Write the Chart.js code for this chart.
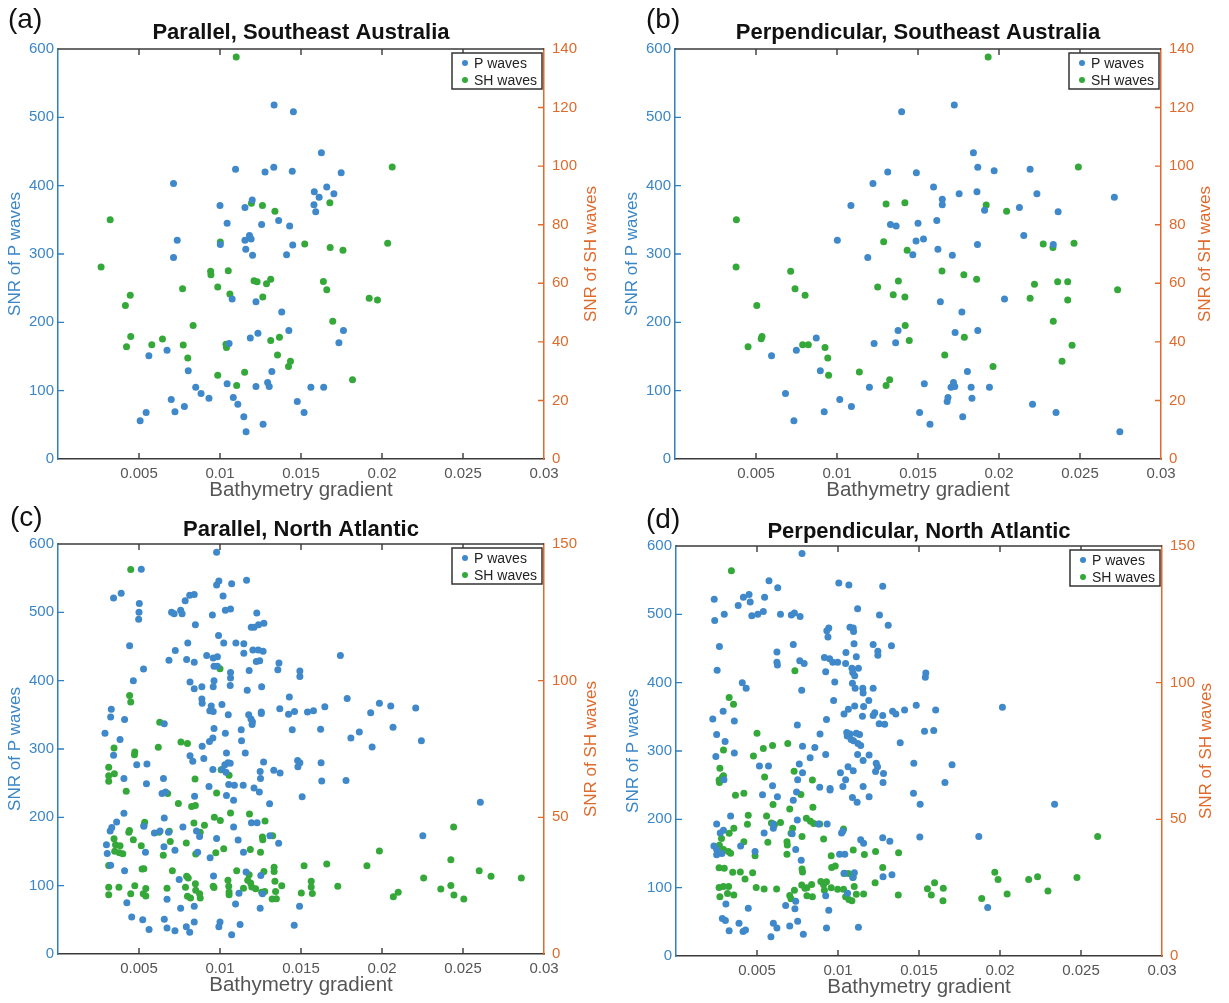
<!DOCTYPE html>
<html>
<head>
<meta charset="utf-8">
<title>SNR vs bathymetry gradient</title>
<script src="https://cdn.jsdelivr.net/npm/chart.js@4.4.1/dist/chart.umd.min.js"></script>
<style>
  body { margin: 0; background: #fff; }
  #fig { position: relative; width: 1229px; height: 1003px; overflow: hidden; }
  #fig canvas { position: absolute; }
</style>
</head>
<body>
<div id="fig">
  <canvas id="chartA" width="612" height="500" style="left:0;top:0"></canvas>
  <canvas id="chartB" width="612" height="500" style="left:617px;top:0"></canvas>
  <canvas id="chartC" width="612" height="500" style="left:0;top:495px"></canvas>
  <canvas id="chartD" width="612" height="500" style="left:618px;top:497px"></canvas>
</div>
<script>
// ---- (a) parallel, Southeast Australia ----
const aPx = [
  0.01334,0.01453,0.01626,0.01096,0.01278,0.01332,0.01446,0.01748,0.00713,0.01659,
  0.01582,0.01703,0.01612,0.01199,0.01000,0.01154,0.01580,0.01591,0.01362,0.01044,
  0.01257,0.01430,0.01182,0.01154,0.01192,0.00736,0.01002,0.01449,0.01159,0.01201,
  0.01411,0.00713,0.01075,0.01222,0.01381,0.01425,0.01762,0.01234,0.01187,0.01056,
  0.01734,0.00673,0.00561,0.00804,0.01320,0.01044,0.01294,0.01222,0.01304,0.00850,
  0.01561,0.01640,0.00883,0.00932,0.01082,0.00699,0.01110,0.01477,0.00780,0.00722,
  0.00544,0.01519,0.00507,0.01147,0.01266,0.01161];
const aPy = [
  518,508,448,424,420,427,421,419,403,398,
  391,388,383,379,371,368,372,362,349,345,
  343,341,327,320,322,320,314,313,307,298,
  299,295,234,230,215,188,188,184,177,169,
  170,159,151,129,128,110,112,106,106,105,
  105,105,96,89,90,87,80,84,77,69,
  68,68,56,62,51,40];
const aSHx = [
  0.01100,0.02063,0.00322,0.01262,0.01194,0.01339,0.01678,0.01002,0.01523,0.01680,
  0.01759,0.02035,0.00266,0.00942,0.00944,0.01051,0.01210,0.01229,0.01287,0.01313,
  0.01638,0.01659,0.00986,0.00769,0.01061,0.01264,0.00446,0.00416,0.01921,0.01972,
  0.00834,0.01696,0.00449,0.00423,0.00579,0.00645,0.00773,0.00801,0.01037,0.01040,
  0.01313,0.01367,0.01355,0.01435,0.01423,0.00986,0.01152,0.01103,0.01818];
const aSHy = [
  137.3,99.7,81.7,86.6,87.3,84.6,87.5,74.1,73.4,72.2,
  71.3,73.7,65.6,64.1,62.9,64.3,60.9,60.5,59.8,61.4,
  60.6,57.8,58.7,58.1,56.3,55.3,55.9,52.4,54.9,54.3,
  45.6,47.0,41.8,38.3,39.0,41.0,38.9,34.5,39.2,38.1,
  40.5,41.6,35.5,33.4,31.6,28.6,29.6,25.1,27.1];

// ---- (b) perpendicular, Southeast Australia ----
const bPx = [
  0.01724,0.01399,0.01842,0.01869,0.02192,0.01313,0.01490,0.01970,0.01222,0.01596,
  0.01864,0.01754,0.02234,0.02712,0.01650,0.01650,0.01086,0.02126,0.01911,0.02365,
  0.01616,0.01330,0.01365,0.01500,0.02153,0.01002,0.01488,0.01534,0.01867,0.02335,
  0.01623,0.01190,0.01468,0.01712,0.02034,0.01638,0.01771,0.01377,0.01869,0.01729,
  0.00872,0.01229,0.01362,0.00749,0.00596,0.00897,0.01805,0.01539,0.01719,0.01200,
  0.01704,0.01727,0.01828,0.01941,0.00682,0.01685,0.01833,0.01017,0.01680,0.01089,
  0.02207,0.00921,0.01510,0.02352,0.01776,0.00734,0.01574,0.02746];
const bPy = [
  518,508,448,427,424,420,419,422,403,398,
  391,388,388,383,380,372,371,368,364,362,
  349,343,341,345,327,320,319,322,314,314,
  307,295,299,298,234,230,215,188,188,185,
  177,169,170,159,151,129,128,110,112,105,
  105,106,105,105,96,90,89,87,84,77,
  80,69,68,68,62,56,51,40];
const bSHx = [
  0.01933,0.02490,0.00379,0.01303,0.01419,0.01921,0.02047,0.01288,0.01433,0.02273,
  0.02333,0.02463,0.00377,0.00714,0.01648,0.01783,0.01862,0.01379,0.02362,0.02424,
  0.02219,0.01251,0.00741,0.02732,0.00803,0.01347,0.01419,0.02192,0.02424,0.00505,
  0.01421,0.02335,0.00537,0.00532,0.00451,0.00788,0.00823,0.00926,0.01446,0.01786,
  0.02451,0.00943,0.01665,0.02389,0.01963,0.00948,0.01138,0.01325,0.01303];
const bSHy = [
  137.3,99.7,81.7,87.1,87.5,86.7,84.6,74.2,71.3,73.4,
  72.2,73.7,65.6,64.1,64.2,62.9,61.4,60.8,60.5,60.5,
  59.7,58.7,58.1,57.8,55.9,56.1,55.3,54.9,54.3,52.4,
  45.6,47.0,41.8,41.1,38.3,39.0,39.0,38.1,40.5,41.6,
  38.8,34.5,35.5,33.4,31.6,28.6,29.7,27.1,25.1];

// ---- (c) parallel, North Atlantic ----
const cPx = [
  0.00979,0.00514,0.00343,0.00390,0.00502,0.00500,0.00498,0.00442,0.00979,0.00993,
  0.01072,0.01164,0.01019,0.01065,0.01033,0.00785,0.00813,0.00841,0.00701,0.00757,
  0.00766,0.00717,0.00848,0.00953,0.01227,0.01193,0.01210,0.01238,0.01271,0.00991,
  0.00801,0.01023,0.01098,0.01147,0.01147,0.01203,0.01236,0.01266,0.00724,
  0.00685,0.00794,0.00841,0.00918,0.00958,0.00984,0.00963,0.00984,0.01224,0.01245,
  0.01180,0.01065,0.01065,0.01063,0.01364,0.01357,0.01493,0.01493,0.01743,0.00528,
  0.00465,0.00815,0.00841,0.00888,0.00963,0.00958,0.01168,0.01257,
  0.00888,0.00890,0.00946,0.00937,0.00958,0.01012,0.01051,0.01177,0.01191,0.01200,
  0.01198,0.01255,0.01255,0.01428,0.01369,0.01423,0.01460,0.01540,0.01577,0.01647,
  0.01785,0.01930,0.01984,0.02054,0.02208,0.01446,0.01621,0.01131,0.01033,0.01133,
  0.00963,0.00956,0.00935,0.00890,0.00815,0.00832,0.00900,0.01156,0.01808,0.01860,
  0.02068,0.02243,0.01939,0.00290,0.00325,0.00329,0.00411,0.00383,0.00343,0.00656,
  0.00486,0.00549,0.00407,0.00546,0.00651,0.00642,0.00664,0.00956,0.01014,0.01030,
  0.01049,0.01063,0.01037,0.01054,0.01089,0.01143,0.01084,0.01269,0.01248,0.01250,
  0.01332,0.01371,0.01479,0.01481,0.01493,0.01624,0.01628,0.01778,0.01507,0.01210,
  0.01243,0.01306,0.00932,0.00843,0.01040,0.02607,0.01040,
  0.00407,0.00362,0.00332,0.00322,0.00656,0.00530,0.00595,0.00630,0.00682,0.00299,
  0.00304,0.00325,0.00540,0.00654,0.00722,0.00771,0.00855,0.00874,0.00862,0.00939,
  0.00960,0.00979,0.01084,0.01112,0.01145,0.01194,0.01229,0.01308,0.01362,0.02252,
  0.01161,0.01252,0.00411,0.00748,
  0.00425,0.00455,0.00523,0.00562,0.00673,0.00656,0.00673,0.00722,0.00757,0.00792,
  0.00813,0.00841,0.00841,0.01000,0.00993,0.01072,0.01096,0.01117,0.01124,0.01248,
  0.01262,0.01491,0.01458];
const cPy = [
  588,563,521,528,513,500,490,451,540,546,
  542,547,524,505,503,517,525,526,500,503,
  498,498,482,496,499,478,478,482,484,466,
  455,455,455,454,440,445,445,443,444,
  430,431,427,437,433,435,421,421,428,429,
  415,412,404,393,426,416,414,406,437,417,
  400,398,388,391,400,391,386,391,
  373,367,363,356,355,365,350,350,344,340,
  336,352,354,376,359,351,355,354,356,362,
  374,353,367,363,360,328,329,328,323,312,
  330,316,311,304,290,282,286,294,316,325,
  332,312,303,323,347,358,343,314,291,337,
  277,278,257,249,257,235,237,270,270,277,
  280,279,266,248,247,247,225,281,267,257,
  269,265,283,274,280,280,253,254,230,243,
  237,220,245,231,232,222,294,
  206,193,185,180,199,187,177,180,178,160,
  147,130,149,157,152,186,180,172,149,141,
  114,169,186,167,149,192,192,173,162,173,
  120,115,122,109,
  75,54,50,36,80,51,38,34,67,40,
  32,70,47,47,40,28,73,89,43,67,
  88,70,42];
const cSHx = [
  0.00449,0.01000,0.00442,0.00449,0.00628,0.00759,0.00799,0.00346,0.00474,0.00472,
  0.00619,0.00313,0.00348,0.00313,0.00313,0.00421,0.00677,0.00743,0.00846,0.00979,
  0.01007,0.01056,0.00825,0.00848,0.01065,0.00965,0.01002,0.01182,0.01278,0.02442,
  0.00441,0.00437,0.00535,0.00530,0.00465,0.00514,0.00624,0.00687,0.00839,0.00904,
  0.00878,0.00792,0.00693,0.00650,0.00346,0.00355,0.00383,0.00350,0.00379,0.00400,
  0.00313,0.00376,0.00313,0.00313,0.00474,0.00449,0.00519,0.00530,0.00542,0.00526,
  0.00542,0.00673,0.00706,0.00794,0.00787,0.00804,0.00799,0.00818,0.00848,0.00850,
  0.00874,0.00878,0.00850,0.00974,0.01023,0.00958,0.00963,0.01049,0.01054,0.01056,
  0.01056,0.01103,0.01145,0.01171,0.01180,0.01189,0.01187,0.01196,0.01220,0.01257,
  0.01250,0.01271,0.01264,0.01262,0.01276,0.01322,0.01334,0.01334,0.01339,0.01343,
  0.01325,0.01381,0.01348,0.01519,0.01502,0.01563,0.01563,0.01570,0.01659,0.01727,
  0.01907,0.01984,0.02070,0.02100,0.02257,0.02363,0.02425,0.02425,0.02444,0.02505,
  0.02600,0.02673,0.02860];
const cSHy = [
  140.7,104.4,94.6,92.2,84.8,77.6,77.0,75.4,73.9,72.9,
  75.6,68.3,65.9,65.2,63.2,59.5,58.7,55.1,64.0,58.9,
  67.4,65.4,54.0,54.3,51.6,50.0,48.8,51.2,48.7,46.5,
  45.2,44.5,48.2,47.0,41.8,39.6,44.5,44.9,47.9,47.1,
  44.5,40.6,41.2,36.1,42.2,40.0,39.6,37.6,37.0,36.7,
  32.4,24.4,24.4,21.7,25.0,22.0,31.1,31.2,24.0,22.0,
  21.2,24.1,30.5,28.4,24.4,27.8,21.1,20.5,25.7,23.3,
  22.0,20.5,36.6,37.0,38.5,24.8,24.3,27.0,24.8,22.7,
  21.7,30.5,24.1,27.0,29.0,26.0,38.2,24.5,23.9,22.6,
  37.2,30.2,41.8,42.8,22.9,20.1,31.7,30.2,26.6,22.9,
  43.3,25.0,20.2,32.3,22.3,26.6,24.5,22.1,32.9,24.8,
  32.3,37.7,20.9,22.6,27.8,23.8,25.1,34.5,21.6,20.1,
  30.5,28.4,27.8];

// ---- (d) perpendicular, North Atlantic ----
const dPx = [
  0.00778,0.00574,0.00628,0.01005,0.01067,0.01276,0.00236,0.00416,0.00451,0.00458,
  0.00384,0.00547,0.00239,0.00298,0.00468,0.00505,0.00539,0.00645,0.00712,0.00731,
  0.00766,0.01121,0.01256,0.01310,0.00943,0.00931,0.00938,0.01074,0.01094,0.01096,
  0.00268,0.00724,0.01099,0.01217,0.01330,0.01246,0.01246,0.00623,0.00623,0.00626,
  0.00764,0.00791,0.01049,0.01113,0.00916,0.00948,0.00968,0.00998,0.01047,0.01086,
  0.01126,0.01091,0.01103,0.01542,0.01539,0.00254,0.00924,
  0.00409,0.00433,0.00776,0.00980,0.01089,0.01106,0.01153,0.01155,0.01217,0.00973,
  0.01190,0.01158,0.01103,0.01037,0.01064,0.01151,0.01227,0.01217,0.01276,0.01254,
  0.01288,0.01337,0.01357,0.01411,0.01483,0.01603,0.02015,0.00227,0.00291,0.00360,
  0.00251,0.00303,0.00246,0.00360,0.00929,0.00749,0.00889,0.01054,0.01074,0.01057,
  0.01113,0.01133,0.01081,0.01096,0.01123,0.01140,0.01384,0.01534,0.01591,0.00781,
  0.00857,0.00924,0.00828,0.01121,0.01192,0.01155,
  0.00515,0.00571,0.00761,0.00781,0.00751,0.01015,0.01062,0.01094,0.01236,0.01244,
  0.01232,0.01281,0.01278,0.01468,0.01704,0.01660,0.00296,0.00596,0.00534,0.00626,
  0.00887,0.00951,0.00951,0.01030,0.01047,0.01155,0.01089,0.01118,0.01192,0.00744,
  0.00724,0.01466,0.01507,0.02337,
  0.00337,0.00251,0.00273,0.00293,0.00601,0.00601,0.00544,0.00749,0.00717,0.00879,
  0.00933,0.01022,0.01030,0.00399,0.00488,0.00234,0.00251,0.00251,0.00283,0.00739,
  0.01140,0.01158,0.01276,0.01320,0.01869,0.01505,0.01010,0.01042,0.00773,0.01039,
  0.01101,0.01091,0.01333,0.01278,
  0.00924,0.00943,0.00308,0.00446,0.00286,0.00305,0.00328,0.00389,0.00414,0.00429,
  0.00586,0.00601,0.00623,0.00677,0.00702,0.00734,0.00739,0.00751,0.00786,0.00929,
  0.01126,0.01924,0.01059];
const dPy = [
  589,549,539,546,543,541,522,525,529,518,
  513,525,491,500,498,500,504,500,499,502,
  497,508,499,484,480,476,467,481,480,475,
  453,456,457,456,454,446,440,445,430,426,
  432,428,444,438,437,435,430,430,428,421,
  421,415,410,414,408,418,416,
  400,392,389,401,399,392,392,385,392,374,
  374,365,366,354,361,351,356,352,352,340,
  339,358,354,360,367,360,364,347,358,344,
  324,314,292,297,346,338,325,327,325,322,
  326,324,317,315,311,308,312,329,330,307,
  305,295,290,295,294,286,
  278,278,281,268,258,268,277,271,282,277,
  270,267,254,282,280,254,258,249,236,233,
  247,245,243,248,258,248,232,225,233,240,
  228,238,222,222,
  205,193,180,184,187,193,180,199,179,193,
  193,180,183,161,153,161,156,148,150,156,
  170,165,173,168,175,174,149,149,140,121,
  122,115,119,116,
  88,67,76,70,55,52,37,48,36,38,
  28,48,41,74,44,69,80,51,32,41,
  42,71,92];
const dSHx = [
  0.00342,0.00734,0.00328,0.00355,0.00500,0.00690,0.00596,0.00539,0.00293,0.00478,
  0.00271,0.00293,0.00266,0.00268,0.00286,0.00547,0.00729,0.00842,0.00367,0.00419,
  0.00599,0.00771,0.00702,0.00845,0.00446,0.00559,0.00645,0.00589,0.00608,0.00441,
  0.00357,0.00328,0.00281,0.00805,0.00830,0.00850,0.00887,0.01034,0.00911,0.00419,
  0.00567,0.00685,0.00687,0.00710,0.00720,0.00268,0.00293,0.00323,0.00337,0.00488,
  0.00685,0.00778,0.00958,0.00961,0.00983,0.01094,0.01163,0.01232,0.01374,0.01276,
  0.00266,0.00298,0.00350,0.00397,0.00426,0.00473,0.00778,0.00781,0.00808,0.00894,
  0.00911,0.00929,0.01037,0.01064,0.01094,0.01100,0.01034,0.00998,0.00958,0.01229,
  0.00266,0.00293,0.00325,0.00318,0.00271,0.00357,0.00495,0.00544,0.00621,0.00702,
  0.00710,0.00731,0.00776,0.00796,0.00808,0.00837,0.00842,0.00916,0.01047,0.01067,
  0.01086,0.01113,0.01158,0.01372,0.01596,0.01552,0.01576,0.01650,0.01648,0.01887,
  0.01968,0.01988,0.02044,0.02177,0.02232,0.02296,0.02475,0.02603];
const dSHy = [
  140.9,104.4,94.6,92.1,81.5,77.7,77.0,75.9,75.4,73.2,
  68.7,65.9,64.4,63.5,65.4,65.5,67.6,64.4,58.8,59.5,
  55.4,59.1,53.8,54.4,51.5,51.2,48.8,48.7,48.0,48.2,
  46.7,44.9,43.0,50.4,49.3,48.5,48.3,46.5,42.8,41.8,
  41.6,41.8,40.6,44.9,46.7,40.5,39.0,38.2,37.6,36.7,
  37.2,43.7,36.7,32.4,32.9,38.8,37.1,38.2,37.8,32.4,
  32.3,32.1,30.6,30.7,28.2,30.5,31.8,30.7,25.0,27.3,
  26.1,27.2,30.2,30.2,28.8,25.4,24.4,24.4,25.0,26.8,
  25.1,25.4,25.4,22.9,21.7,22.3,25.1,24.5,24.5,22.1,
  20.9,24.1,26.0,24.8,22.0,26.2,21.7,24.1,21.7,20.7,
  20.2,22.6,22.7,22.3,26.8,24.6,22.3,24.8,20.2,21.0,
  30.6,28.0,22.7,28.0,29.0,23.8,28.7,43.7];

// axis ranges / ticks
const xTicks = [0.005, 0.01, 0.015, 0.02, 0.025, 0.03];
const pRange = [0, 600];
const seriesNames = ['P waves', 'SH waves'];

const BLUE = '#2f7fc1';
const BLUE_TXT = '#3b86c6';
const ORANGE = '#df6a2c';
const GREEN = '#35a83a';
const DOT_BLUE = '#3f88ca';
const FRAME = '#3a3a3a';
const GRAY_TXT = '#555555';
const FONT = '"Liberation Sans", Arial, Helvetica, sans-serif';

Chart.defaults.font.family = FONT;

function pts(xs, ys) {
  return xs.map((x, i) => ({ x: x, y: ys[i] }));
}

// frame, inward ticks, titles and boxed legend
const decor = {
  id: 'decor',
  afterDraw(chart, args, o) {
    const ctx = chart.ctx;
    const a = chart.chartArea;
    const sx = chart.scales.x, sy = chart.scales.y, sy1 = chart.scales.y1;
    const tl = 6;
    ctx.save();

    ctx.lineWidth = 1.4;
    ctx.strokeStyle = FRAME;
    ctx.beginPath();
    ctx.moveTo(a.left, a.top);
    ctx.lineTo(a.right, a.top);
    ctx.stroke();

    ctx.beginPath();
    sx.ticks.forEach(t => {
      const px = sx.getPixelForValue(t.value);
      if (px < a.left + 2 || px > a.right - 2) return;
      ctx.moveTo(px, a.bottom); ctx.lineTo(px, a.bottom - tl);
      ctx.moveTo(px, a.top); ctx.lineTo(px, a.top + tl);
    });
    ctx.stroke();

    ctx.strokeStyle = BLUE;
    ctx.beginPath();
    sy.ticks.forEach(t => {
      const py = sy.getPixelForValue(t.value);
      if (py < a.top + 2 || py > a.bottom - 2) return;
      ctx.moveTo(a.left, py); ctx.lineTo(a.left + tl, py);
    });
    ctx.stroke();

    ctx.strokeStyle = ORANGE;
    ctx.beginPath();
    sy1.ticks.forEach(t => {
      const py = sy1.getPixelForValue(t.value);
      if (py < a.top + 2 || py > a.bottom - 2) return;
      ctx.moveTo(a.right, py); ctx.lineTo(a.right - tl, py);
    });
    ctx.stroke();

    // panel letter and title
    ctx.fillStyle = '#111';
    ctx.textBaseline = 'middle';
    ctx.textAlign = 'left';
    ctx.font = '28px ' + FONT;
    ctx.fillText(o.letter, o.letterX, o.letterY);
    ctx.textAlign = 'center';
    ctx.font = 'bold 22px ' + FONT;
    ctx.fillText(o.title, (a.left + a.right) / 2, o.titleY);

    // right axis title, reading upward
    ctx.save();
    ctx.translate(o.rightTitleX, (a.top + a.bottom) / 2);
    ctx.rotate(-Math.PI / 2);
    ctx.fillStyle = ORANGE;
    ctx.font = '17px ' + FONT;
    ctx.fillText('SNR of SH waves', 0, 0);
    ctx.restore();

    // legend box
    const bw = 90, bh = 36;
    const bx = a.right - bw - 2, by = a.top + 4;
    ctx.fillStyle = '#fff';
    ctx.fillRect(bx, by, bw, bh);
    ctx.strokeStyle = '#333';
    ctx.lineWidth = 1.5;
    ctx.strokeRect(bx, by, bw, bh);
    ctx.textAlign = 'left';
    ctx.font = '14px ' + FONT;
    chart.data.datasets.forEach((ds, i) => {
      const ry = by + 10 + i * 17;
      ctx.fillStyle = ds.backgroundColor;
      ctx.beginPath();
      ctx.arc(bx + 13, ry, 3, 0, Math.PI * 2);
      ctx.fill();
      ctx.fillStyle = '#222';
      ctx.fillText(ds.label, bx + 22, ry + 1);
    });
    ctx.restore();
  }
};

function makePanel(id, cfg) {
  new Chart(document.getElementById(id), {
    type: 'scatter',
    data: {
      datasets: [
        { label: seriesNames[0], data: pts(cfg.px, cfg.py), yAxisID: 'y',
          backgroundColor: DOT_BLUE, borderWidth: 0, pointRadius: 3.5 },
        { label: seriesNames[1], data: pts(cfg.shx, cfg.shy), yAxisID: 'y1',
          backgroundColor: GREEN, borderWidth: 0, pointRadius: 3.5 }
      ]
    },
    options: {
      responsive: false,
      animation: false,
      layout: { padding: { top: 49, left: 0, right: 0, bottom: 0 } },
      plugins: {
        legend: { display: false },
        tooltip: { enabled: false },
        decor: cfg.decor
      },
      scales: {
        x: {
          type: 'linear', position: 'bottom', min: 0, max: xTicks[xTicks.length - 1],
          afterBuildTicks: s => { s.ticks = [0].concat(xTicks).map(v => ({ value: v })); },
          ticks: {
            color: GRAY_TXT, font: { size: 15 }, padding: 6, maxRotation: 0, autoSkip: false,
            callback: v => (v === 0 ? '' : String(+v.toFixed(3)))
          },
          grid: { display: false, drawTicks: false },
          border: { color: FRAME, width: 1.4 },
          title: { display: true, text: 'Bathymetry gradient', color: GRAY_TXT,
                   font: { size: 20.5, lineHeight: 1 }, padding: { top: 0, bottom: -1 } },
          afterFit: s => { s.height = 41; }
        },
        y: {
          position: 'left', min: pRange[0], max: pRange[1],
          ticks: { stepSize: 100, color: BLUE_TXT, font: { size: 15 }, padding: 4 },
          grid: { display: false, drawTicks: false },
          border: { color: BLUE, width: 1.5 },
          title: { display: true, text: 'SNR of P waves', color: BLUE_TXT,
                   font: { size: 17 }, padding: { top: 5, bottom: 0 } },
          afterFit: s => { s.width = 58; }
        },
        y1: {
          position: 'right', min: 0, max: cfg.shMax,
          ticks: { stepSize: cfg.shStep, color: ORANGE, font: { size: 15 }, padding: 8 },
          grid: { display: false, drawTicks: false },
          border: { color: ORANGE, width: 1.5 },
          afterFit: s => { s.width = 68; }
        }
      }
    },
    plugins: [decor]
  });
}

makePanel('chartA', { px: aPx, py: aPy, shx: aSHx, shy: aSHy, shMax: 140, shStep: 20,
  decor: { letter: '(a)', letterX: 8, letterY: 20, title: 'Parallel, Southeast Australia', titleY: 33, rightTitleX: 591 } });
makePanel('chartB', { px: bPx, py: bPy, shx: bSHx, shy: bSHy, shMax: 140, shStep: 20,
  decor: { letter: '(b)', letterX: 29, letterY: 20, title: 'Perpendicular, Southeast Australia', titleY: 33, rightTitleX: 588 } });
makePanel('chartC', { px: cPx, py: cPy, shx: cSHx, shy: cSHy, shMax: 150, shStep: 50,
  decor: { letter: '(c)', letterX: 10, letterY: 23, title: 'Parallel, North Atlantic', titleY: 35, rightTitleX: 591 } });
makePanel('chartD', { px: dPx, py: dPy, shx: dSHx, shy: dSHy, shMax: 150, shStep: 50,
  decor: { letter: '(d)', letterX: 28, letterY: 23, title: 'Perpendicular, North Atlantic', titleY: 35, rightTitleX: 588 } });
</script>
</body>
</html>
